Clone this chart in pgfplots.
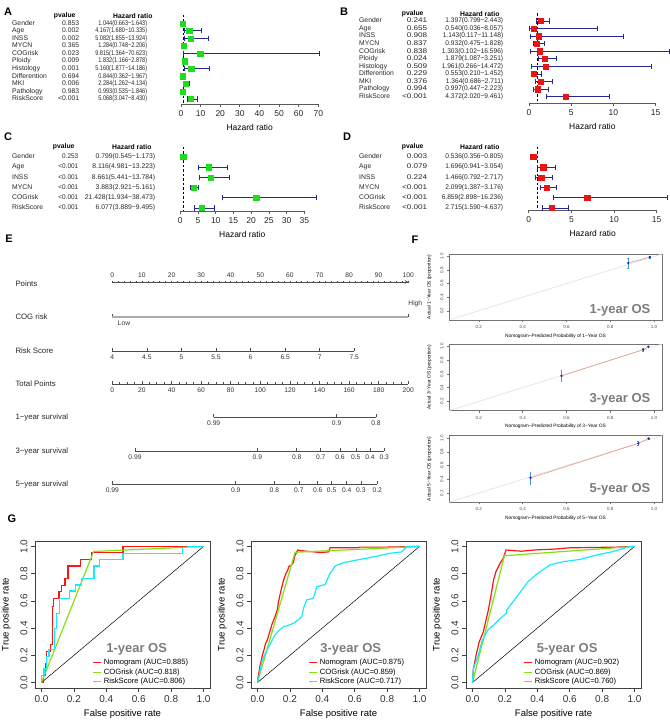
\documentclass[border=0pt]{standalone}
\usepackage{fontspec}
\setmainfont{Liberation Sans}
\usepackage{graphicx}
\usepackage{pgfplots}
\pgfplotsset{compat=1.18}

\definecolor{fgreen}{RGB}{30,220,30}
\definecolor{fred}{RGB}{235,20,20}
\definecolor{ebar}{RGB}{35,40,150}
\definecolor{rocred}{RGB}{255,20,20}
\definecolor{rocgreen}{RGB}{130,225,20}
\definecolor{roccyan}{RGB}{20,235,255}
\definecolor{calline}{RGB}{230,150,130}
\definecolor{calbar}{RGB}{70,150,230}
\definecolor{calpt}{RGB}{30,30,170}
\definecolor{labgrey}{RGB}{125,125,125}
\definecolor{axgrey}{RGB}{90,90,90}

\newcommand{\fs}[1]{\fontsize{#1}{#1}\selectfont}
% A: names 12, p right 79, HR right 147
\newcommand{\rowA}[3]{\makebox[45pt][l]{#1}\makebox[22pt][r]{#2}\makebox[68pt][r]{\scalebox{0.82}[1]{#3}}}
% C: names 12, p right 78, HR right 155
\newcommand{\rowC}[3]{\makebox[44pt][l]{#1}\makebox[22pt][r]{\scalebox{0.94}[1]{#2}}\makebox[77pt][r]{#3}}
% B, D: names 359, p right 427, HR right 503
\newcommand{\rowR}[3]{\makebox[46pt][l]{#1}\makebox[22pt][r]{\scalebox{1.2}[1]{#2}}\makebox[76pt][r]{\scalebox{0.97}[1]{#3}}}

\pgfplotsset{
  /pgf/number format/assume math mode=true,
  forest/.style={
    scale only axis, clip=false, anchor=south west,
    axis x line*=bottom, axis y line*=left,
    y axis line style={draw=none},
    x axis line style={-, draw=axgrey, line width=0.7pt},
    y dir=reverse,
    xtick style={draw=axgrey, line width=0.7pt},
    ytick style={draw=none},
    tick align=outside, major tick length=3pt,
    yticklabel style={anchor=west, inner sep=0pt, font=\fs{6.8}, text=black!85},
    xticklabel style={font=\fs{8.5}, text=black!85},
    xlabel={Hazard ratio},
    xlabel style={font=\fs{8.5}, at={(axis description cs:0.5,0)}, anchor=center, yshift=-23pt},
    error bars/error bar style={ebar, line width=0.9pt},
  },
  nomo/.style={
    scale only axis, height=1pt, ymin=0, ymax=1, anchor=south west, clip=false,
    hide y axis, axis x line=bottom,
    x axis line style={-, draw=black!70, line width=0.6pt},
    tick align=inside, major tick length=2.5pt, minor tick length=1.5pt,
    every tick/.style={black!70, line width=0.5pt},
    xticklabel style={font=\fs{6.7}, text=black!80},
  },
  calib/.style={
    scale only axis, width=213pt, anchor=south west, clip=true,
    xmin=0.064, xmax=1.036, ymin=0.064, ymax=1.036,
    axis line style={black!55, line width=0.5pt},
    xtick={0.2,0.4,0.6,0.8,1.0}, ytick={0.2,0.4,0.6,0.8,1.0},
    xtick pos=bottom, ytick pos=left, tick align=outside,
    major tick length=2pt, tick style={black!55, line width=0.4pt},
    xticklabel style={font=\fs{4.5}, text=black!70},
    yticklabel style={font=\fs{4.5}, text=black!70, rotate=90, anchor=south},
    xticklabel={\pgfmathprintnumber[fixed,fixed zerofill,precision=1]{\tick}},
    yticklabel={\pgfmathprintnumber[fixed,fixed zerofill,precision=1]{\tick}},
    xlabel style={font=\fs{4.8}, at={(axis description cs:0.5,0)}, anchor=center, yshift=-16pt},
    ylabel style={font=\fs{4.8}, at={(axis description cs:-0.092,0.5)}, anchor=center},
  },
  roc/.style={
    scale only axis, width=175pt, height=147pt, anchor=south west,
    xmin=-0.04, xmax=1.04, ymin=-0.04, ymax=1.04,
    xtick={0,0.2,0.4,0.6,0.8,1}, ytick={0,0.2,0.4,0.6,0.8,1},
    xtick pos=bottom, ytick pos=left, tick align=outside, major tick length=4pt,
    axis line style={black!75, line width=0.6pt}, tick style={black!75, line width=0.6pt},
    xticklabel style={font=\fs{10}, text=black!80},
    yticklabel style={font=\fs{10}, text=black!80, rotate=90, anchor=south},
    xticklabel={\pgfmathprintnumber[fixed,fixed zerofill,precision=1]{\tick}},
    yticklabel={\pgfmathprintnumber[fixed,fixed zerofill,precision=1]{\tick}},
    xlabel={False positive rate}, ylabel={True positive rate},
    xlabel style={font=\fs{9.5}, at={(axis description cs:0.5,0)}, anchor=center, yshift=-26pt},
    ylabel style={font=\fs{9.5}, at={(axis description cs:-0.165,0.5)}, anchor=center},
    legend style={draw=none, fill=none, font=\fs{7.6}, at={(axis description cs:0.33,0.21)},
      anchor=north west, inner sep=0pt, row sep=-1.5pt, cells={anchor=west}},
    legend image code/.code={\draw[#1, line width=1pt] (0pt,0pt) -- (8pt,0pt);},
  },
}

\begin{document}
\begin{tikzpicture}
\useasboundingbox (0,0) rectangle (669pt,722pt);

\foreach \l/\x/\y in {A/8/710,B/344/710,C/8/585,D/347/585,E/9/483,F/415/482,G/12/203}
  \node[font=\bfseries\fs{11}] at (\x pt,\y pt) {\l};

% ---------------- A ----------------
\node[font=\bfseries\fs{6.8}, anchor=east] at (79pt,706pt) {pvalue};
\node[font=\bfseries\fs{6.8}, anchor=east] at (156pt,706pt) {Hazard ratio};
\begin{axis}[forest, at={(181pt,618pt)}, width=137.3pt, height=89pt,
  xmin=0, xmax=70, ymin=-0.1, ymax=11.66, xtick={0,10,...,70}, ytick={1,...,11},
  yticklabel style={xshift=-166pt},
  yticklabels={
   {\rowA{Gender}{0.853}{1.044(0.663−1.643)}},
   {\rowA{Age}{0.002}{4.167(1.680−10.335)}},
   {\rowA{INSS}{0.002}{5.082(1.855−13.924)}},
   {\rowA{MYCN}{0.365}{1.284(0.748−2.206)}},
   {\rowA{COGrisk}{0.023}{9.815(1.364−70.623)}},
   {\rowA{Ploidy}{0.009}{1.832(1.166−2.878)}},
   {\rowA{Histology}{0.001}{5.160(1.877−14.186)}},
   {\rowA{Differention}{0.694}{0.844(0.362−1.967)}},
   {\rowA{MKI}{0.006}{2.284(1.262−4.134)}},
   {\rowA{Pathology}{0.983}{0.993(0.535−1.846)}},
   {\rowA{RiskScore}{<0.001}{5.068(3.047−8.430)}}}]
\addplot[black, dash pattern=on 2.5pt off 2pt, line width=0.7pt, forget plot] coordinates {(1,-0.1) (1,11.66)};
\addplot[only marks, mark=square*, mark size=2.6pt, mark options={fill=fgreen, draw=fgreen},
  error bars/.cd, x dir=both, x explicit]
  table[x=hr, y=r, x error minus expr=\thisrow{hr}-\thisrow{lo}, x error plus expr=\thisrow{hi}-\thisrow{hr}, row sep=\\]{
  r hr lo hi\\
  1 1.044 0.663 1.643\\
  2 4.167 1.680 10.335\\
  3 5.082 1.855 13.924\\
  4 1.284 0.748 2.206\\
  5 9.815 1.364 70.623\\
  6 1.832 1.166 2.878\\
  7 5.160 1.877 14.186\\
  8 0.844 0.362 1.967\\
  9 2.284 1.262 4.134\\
  10 0.993 0.535 1.846\\
  11 5.068 3.047 8.430\\
  };
\end{axis}

% ---------------- B ----------------
\node[font=\bfseries\fs{6.8}, anchor=east] at (427pt,708pt) {pvalue};
\node[font=\bfseries\fs{6.8}, anchor=east] at (503pt,708pt) {Hazard ratio};
\begin{axis}[forest, at={(529pt,619pt)}, width=126.7pt, height=89.7pt,
  xmin=0, xmax=15, ymin=-0.02, ymax=11.83, xtick={0,5,10,15}, ytick={1,...,11},
  yticklabel style={xshift=-167pt},
  yticklabels={
   {\rowR{Gender}{0.241}{1.397(0.799−2.443)}},
   {\rowR{Age}{0.655}{0.540(0.036−8.057)}},
   {\rowR{INSS}{0.908}{1.143(0.117−11.148)}},
   {\rowR{MYCN}{0.837}{0.932(0.475−1.828)}},
   {\rowR{COGrisk}{0.838}{1.303(0.102−16.596)}},
   {\rowR{Ploidy}{0.024}{1.879(1.087−3.251)}},
   {\rowR{Histology}{0.509}{1.961(0.266−14.472)}},
   {\rowR{Differention}{0.229}{0.553(0.210−1.452)}},
   {\rowR{MKI}{0.376}{1.364(0.686−2.711)}},
   {\rowR{Pathology}{0.994}{0.997(0.447−2.223)}},
   {\rowR{RiskScore}{<0.001}{4.372(2.020−9.461)}}}]
\addplot[black, dash pattern=on 2.5pt off 2pt, line width=0.7pt, forget plot] coordinates {(1,-0.02) (1,11.83)};
\addplot[only marks, mark=square*, mark size=2.6pt, mark options={fill=fred, draw=fred},
  error bars/.cd, x dir=both, x explicit]
  table[x=hr, y=r, x error minus expr=\thisrow{hr}-\thisrow{lo}, x error plus expr=\thisrow{hi}-\thisrow{hr}, row sep=\\]{
  r hr lo hi\\
  1 1.397 0.799 2.443\\
  2 0.540 0.036 8.057\\
  3 1.143 0.117 11.148\\
  4 0.932 0.475 1.828\\
  5 1.303 0.102 16.596\\
  6 1.879 1.087 3.251\\
  7 1.961 0.266 14.472\\
  8 0.553 0.210 1.452\\
  9 1.364 0.686 2.711\\
  10 0.997 0.447 2.223\\
  11 4.372 2.020 9.461\\
  };
\end{axis}

% ---------------- C ----------------
\node[font=\bfseries\fs{6.8}, anchor=east] at (78pt,575pt) {pvalue};
\node[font=\bfseries\fs{6.8}, anchor=east] at (155pt,575pt) {Hazard ratio};
\begin{axis}[forest, at={(180.3pt,511pt)}, width=124pt, height=64pt,
  xmin=0, xmax=35, ymin=0.02, ymax=6.29, xtick={0,5,...,35}, ytick={1,...,6},
  yticklabel style={xshift=-165.3pt},
  yticklabels={
   {\rowC{Gender}{0.253}{0.799(0.545−1.173)}},
   {\rowC{Age}{<0.001}{8.116(4.981−13.223)}},
   {\rowC{INSS}{<0.001}{8.661(5.441−13.784)}},
   {\rowC{MYCN}{<0.001}{3.883(2.921−5.161)}},
   {\rowC{COGrisk}{<0.001}{21.428(11.934−38.473)}},
   {\rowC{RiskScore}{<0.001}{6.077(3.889−9.495)}}}]
\addplot[black, dash pattern=on 2.5pt off 2pt, line width=0.7pt, forget plot] coordinates {(1,0.02) (1,6.29)};
\addplot[only marks, mark=square*, mark size=2.6pt, mark options={fill=fgreen, draw=fgreen},
  error bars/.cd, x dir=both, x explicit]
  table[x=hr, y=r, x error minus expr=\thisrow{hr}-\thisrow{lo}, x error plus expr=\thisrow{hi}-\thisrow{hr}, row sep=\\]{
  r hr lo hi\\
  1 0.799 0.545 1.173\\
  2 8.116 4.981 13.223\\
  3 8.661 5.441 13.784\\
  4 3.883 2.921 5.161\\
  5 21.428 11.934 38.473\\
  6 6.077 3.889 9.495\\
  };
\end{axis}

% ---------------- D ----------------
\node[font=\bfseries\fs{6.8}, anchor=east] at (427pt,575pt) {pvalue};
\node[font=\bfseries\fs{6.8}, anchor=east] at (503pt,575pt) {Hazard ratio};
\begin{axis}[forest, at={(528.7pt,512pt)}, width=128pt, height=63pt,
  xmin=0, xmax=15, ymin=0.02, ymax=6.2, xtick={0,5,10,15}, ytick={1,...,6},
  yticklabel style={xshift=-166.7pt},
  yticklabels={
   {\rowR{Gender}{0.003}{0.536(0.356−0.805)}},
   {\rowR{Age}{0.079}{1.696(0.941−3.054)}},
   {\rowR{INSS}{0.224}{1.466(0.792−2.717)}},
   {\rowR{MYCN}{<0.001}{2.099(1.387−3.176)}},
   {\rowR{COGrisk}{<0.001}{6.859(2.898−16.236)}},
   {\rowR{RiskScore}{<0.001}{2.715(1.590−4.637)}}}]
\addplot[black, dash pattern=on 2.5pt off 2pt, line width=0.7pt, forget plot] coordinates {(1,0.02) (1,6.2)};
\addplot[only marks, mark=square*, mark size=2.6pt, mark options={fill=fred, draw=fred},
  error bars/.cd, x dir=both, x explicit]
  table[x=hr, y=r, x error minus expr=\thisrow{hr}-\thisrow{lo}, x error plus expr=\thisrow{hi}-\thisrow{hr}, row sep=\\]{
  r hr lo hi\\
  1 0.536 0.356 0.805\\
  2 1.696 0.941 3.054\\
  3 1.466 0.792 2.717\\
  4 2.099 1.387 3.176\\
  5 6.859 2.898 16.236\\
  6 2.715 1.590 4.637\\
  };
\end{axis}

% ---------------- E nomogram ----------------
\foreach \t/\y in {Points/438,COG risk/405,Risk Score/371,Total Points/338,1−year survival/305,3−year survival/271,5−year survival/238}
  \node[font=\fs{7.8}, text=black!85, anchor=west] at (12pt,\y pt) {\t};

\begin{axis}[nomo, at={(112.3pt,439pt)}, width=296pt, xmin=0, xmax=100, axis x line=top,
  xtick={0,10,...,100}, minor x tick num=4]
\addplot[black!70, line width=0.6pt] coordinates {(0,1)(100,1)};
\end{axis}

\begin{axis}[nomo, at={(112.3pt,405pt)}, width=296pt, xmin=0, xmax=100,
  x axis line style={draw=none},
  xtick={0}, xticklabels={Low}, xticklabel style={anchor=north west, xshift=2pt},
  extra x ticks={100}, extra x tick labels={High},
  extra x tick style={xticklabel style={anchor=south, xshift=5pt, yshift=7pt}}]
\addplot[gray!65, line width=1.7pt] coordinates {(0,0)(100,0)};
\end{axis}

\begin{axis}[nomo, at={(112.3pt,371pt)}, width=242pt, xmin=4, xmax=7.5,
  xtick={4,4.5,5,5.5,6,6.5,7,7.5}]
\addplot[black!70, line width=0.6pt] coordinates {(4,0)(7.5,0)};
\end{axis}

\begin{axis}[nomo, at={(112.3pt,338pt)}, width=296pt, xmin=0, xmax=200,
  xtick={0,20,...,200}, minor x tick num=3]
\addplot[black!70, line width=0.6pt] coordinates {(0,0)(200,0)};
\end{axis}

\begin{axis}[nomo, at={(213.7pt,305pt)}, width=162.3pt, xmin=68.5, xmax=178.2,
  xtick={68.5,151.6,178.2}, xticklabels={0.99,0.9,0.8}]
\addplot[black!70, line width=0.6pt] coordinates {(68.5,0)(178.2,0)};
\end{axis}

\begin{axis}[nomo, at={(135pt,271pt)}, width=249.3pt, xmin=15.3, xmax=183.8,
  xtick={15.3,98.0,124.6,140.8,153.9,164.5,174.1,183.8},
  xticklabels={0.99,0.9,0.8,0.7,0.6,0.5,0.4,0.3}]
\addplot[black!70, line width=0.6pt] coordinates {(15.3,0)(183.8,0)};
\end{axis}

\begin{axis}[nomo, at={(112.3pt,238pt)}, width=265pt, xmin=0, xmax=179.1,
  xtick={0,83.4,109.5,126.1,138.8,148.2,158.4,168.0,179.1},
  xticklabels={0.99,0.9,0.8,0.7,0.6,0.5,0.4,0.3,0.2}]
\addplot[black!70, line width=0.6pt] coordinates {(0,0)(179.1,0)};
\end{axis}

% ---------------- F calibration ----------------
\begin{axis}[calib, at={(449pt,402pt)}, height=66pt,
  xlabel={Nomogram−Predicted Probability of 1−Year OS}, ylabel={Actual 1−Year OS (proportion)}]
\addplot[gray!25, line width=0.6pt] coordinates {(0,0)(1.1,1.1)};
\addplot[calline, line width=0.6pt] coordinates {(0.882,0.904)(0.98,0.99)};
\addplot[only marks, mark=*, mark size=0.9pt, calpt,
  error bars/.cd, y dir=both, y explicit, error bar style={calbar, line width=0.6pt}]
  coordinates {(0.882,0.904) +- (0,0.07) (0.98,0.99) +- (0,0.012)};
\node[font=\bfseries\fs{13}, text=labgrey] at (axis description cs:0.803,0.14) {1-year OS};
\end{axis}

\begin{axis}[calib, at={(449pt,311.3pt)}, height=66.7pt,
  xlabel={Nomogram−Predicted Probability of 3−Year OS}, ylabel={Actual 3−Year OS (proportion)}]
\addplot[gray!25, line width=0.6pt] coordinates {(0,0)(1.1,1.1)};
\addplot[calline, line width=0.6pt] coordinates {(0.577,0.57)(0.95,0.953)(0.974,0.997)};
\addplot[only marks, mark=*, mark size=0.9pt, calpt,
  error bars/.cd, y dir=both, y explicit, error bar style={calbar, line width=0.6pt}]
  coordinates {(0.577,0.57) +- (0,0.08) (0.95,0.953) +- (0,0.025) (0.974,0.997) +- (0,0.01)};
\node[font=\bfseries\fs{13}, text=labgrey] at (axis description cs:0.803,0.175) {3-year OS};
\end{axis}

\begin{axis}[calib, at={(449pt,219.7pt)}, height=66.6pt,
  xlabel={Nomogram−Predicted Probability of 5−Year OS}, ylabel={Actual 5−Year OS (proportion)}]
\addplot[gray!25, line width=0.6pt] coordinates {(0,0)(1.1,1.1)};
\addplot[calline, line width=0.6pt] coordinates {(0.436,0.42)(0.928,0.924)(0.975,0.995)};
\addplot[only marks, mark=*, mark size=0.9pt, calpt,
  error bars/.cd, y dir=both, y explicit, error bar style={calbar, line width=0.6pt}]
  coordinates {(0.436,0.42) +- (0,0.09) (0.928,0.924) +- (0,0.03) (0.975,0.995) +- (0,0.01)};
\node[font=\bfseries\fs{13}, text=labgrey] at (axis description cs:0.803,0.2) {5-year OS};
\end{axis}

% ---------------- G ROC ----------------
\begin{axis}[roc, at={(35pt,34pt)}]
\addplot[black, line width=0.5pt, forget plot] coordinates {(0,0)(1,1)};
\addplot[rocred, line width=1.2pt] coordinates {(0,0)(0.01,0)(0.01,0.05)(0.025,0.05)(0.025,0.14)(0.03,0.14)(0.03,0.23)(0.055,0.23)(0.055,0.28)(0.066,0.28)(0.066,0.52)(0.07,0.52)(0.07,0.56)(0.075,0.56)(0.075,0.62)(0.108,0.62)(0.108,0.667)(0.125,0.667)(0.125,0.714)(0.145,0.714)(0.145,0.763)(0.164,0.763)(0.164,0.857)(0.24,0.857)(0.24,0.906)(0.308,0.906)(0.308,0.955)(0.503,0.955)(0.503,1)(1,1)};
\addlegendentry{Nomogram (AUC=0.885)}
\addplot[rocgreen, line width=1.2pt] coordinates {(0,0)(0.322,0.963)(1,1)};
\addlegendentry{COGrisk (AUC=0.818)}
\addplot[roccyan, line width=1.2pt] coordinates {(0,0)(0,0.05)(0.015,0.05)(0.015,0.10)(0.03,0.10)(0.03,0.19)(0.047,0.19)(0.047,0.24)(0.082,0.24)(0.082,0.40)(0.092,0.40)(0.092,0.51)(0.113,0.51)(0.113,0.62)(0.174,0.62)(0.174,0.672)(0.211,0.672)(0.211,0.716)(0.246,0.716)(0.246,0.763)(0.324,0.763)(0.324,0.857)(0.359,0.857)(0.359,0.906)(0.503,0.906)(0.503,0.948)(0.869,0.948)(0.869,0.99)(0.9,0.99)(0.9,1)(1,1)};
\addlegendentry{RiskScore (AUC=0.806)}
\node[font=\bfseries\fs{13}, text=labgrey] at (axis description cs:0.581,0.263) {1-year OS};
\end{axis}

\begin{axis}[roc, at={(251pt,34pt)}]
\addplot[black, line width=0.5pt, forget plot] coordinates {(0,0)(1,1)};
\addplot[rocred, line width=1.2pt] coordinates {(0,0)(0.005,0.05)(0.01,0.08)(0.015,0.12)(0.022,0.153)(0.03,0.2)(0.04,0.24)(0.05,0.288)(0.06,0.31)(0.07,0.35)(0.08,0.39)(0.088,0.423)(0.1,0.46)(0.11,0.49)(0.122,0.533)(0.129,0.59)(0.14,0.65)(0.15,0.7)(0.16,0.75)(0.175,0.8)(0.185,0.82)(0.193,0.851)(0.205,0.86)(0.221,0.88)(0.23,0.93)(0.248,0.973)(0.3,0.965)(0.35,0.96)(0.386,0.955)(0.44,0.96)(0.448,0.99)(0.62,0.99)(0.63,0.995)(0.8,0.995)(1,1)};
\addlegendentry{Nomogram (AUC=0.875)}
\addplot[rocgreen, line width=1.2pt] coordinates {(0,0)(0.232,0.957)(1,1)};
\addlegendentry{COGrisk (AUC=0.859)}
\addplot[roccyan, line width=1.2pt] coordinates {(0,0)(0.01,0.05)(0.026,0.15)(0.05,0.22)(0.077,0.28)(0.108,0.35)(0.13,0.38)(0.16,0.41)(0.19,0.42)(0.221,0.435)(0.25,0.46)(0.273,0.484)(0.287,0.557)(0.304,0.607)(0.345,0.619)(0.366,0.704)(0.417,0.72)(0.448,0.803)(0.479,0.856)(0.53,0.88)(0.612,0.90)(0.725,0.925)(0.818,0.95)(0.89,0.96)(0.92,1.0)(1,1)};
\addlegendentry{RiskScore (AUC=0.717)}
\node[font=\bfseries\fs{13}, text=labgrey] at (axis description cs:0.57,0.263) {3-year OS};
\end{axis}

\begin{axis}[roc, at={(466pt,34pt)}]
\addplot[black, line width=0.5pt, forget plot] coordinates {(0,0)(1,1)};
\addplot[rocred, line width=1.2pt] coordinates {(0,0)(0.005,0.092)(0.022,0.2)(0.042,0.30)(0.067,0.374)(0.098,0.533)(0.113,0.63)(0.13,0.754)(0.145,0.815)(0.17,0.876)(0.19,0.913)(0.207,0.974)(0.3,0.965)(0.396,0.975)(0.5,0.98)(0.602,0.99)(0.89,0.995)(1,1)};
\addlegendentry{Nomogram (AUC=0.902)}
\addplot[rocgreen, line width=1.2pt] coordinates {(0,0)(0.197,0.932)(1,1)};
\addlegendentry{COGrisk (AUC=0.869)}
\addplot[roccyan, line width=1.2pt] coordinates {(0,0)(0.005,0.1)(0.036,0.2)(0.057,0.3)(0.094,0.386)(0.128,0.42)(0.18,0.48)(0.21,0.509)(0.211,0.533)(0.25,0.594)(0.29,0.656)(0.342,0.741)(0.404,0.803)(0.477,0.864)(0.559,0.888)(0.663,0.905)(0.766,0.937)(0.859,0.96)(0.972,1.0)(1,1)};
\addlegendentry{RiskScore (AUC=0.760)}
\node[font=\bfseries\fs{13}, text=labgrey] at (axis description cs:0.578,0.263) {5-year OS};
\end{axis}

\end{tikzpicture}
\end{document}
